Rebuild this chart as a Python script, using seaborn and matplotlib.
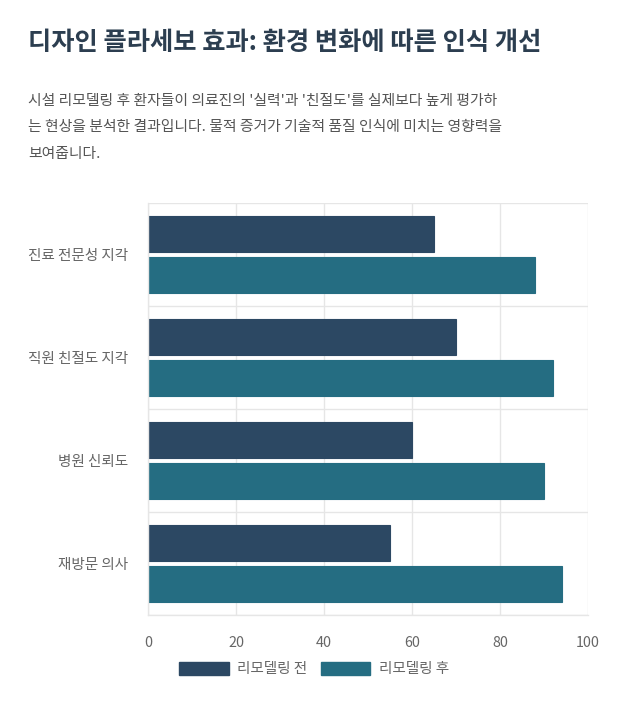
import matplotlib.pyplot as plt
import seaborn as sns
import pandas as pd

categories = ["진료 전문성 지각", "직원 친절도 지각", "병원 신뢰도", "재방문 의사"]
before = [65, 70, 60, 55]
after = [88, 92, 90, 94]
series_names = ["리모델링 전", "리모델링 후"]
colors = ["#2c4863", "#256d82"]

title = "디자인 플라세보 효과: 환경 변화에 따른 인식 개선"
subtitle = ("시설 리모델링 후 환자들이 의료진의 '실력'과 '친절도'를 실제보다 높게 평가하\n"
            "는 현상을 분석한 결과입니다. 물적 증거가 기술적 품질 인식에 미치는 영향력을\n"
            "보여줍니다.")

df = pd.DataFrame({
    "category": categories * 2,
    "value": before + after,
    "series": [series_names[0]] * len(before) + [series_names[1]] * len(after),
})

sns.set_style("white")
plt.rcParams["font.family"] = ["Noto Sans CJK KR", "DejaVu Sans"]

fig = plt.figure(figsize=(6.3, 7.22), dpi=100)
ax = fig.add_axes([148 / 630, 1 - 615 / 722, 440 / 630, 412 / 722])

sns.barplot(data=df, y="category", x="value", hue="series", order=categories,
            hue_order=series_names, palette=colors, orient="h",
            width=0.8, gap=0.12, saturation=1, ax=ax, legend=False)

for p in ax.patches:
    p.set_edgecolor(p.get_facecolor())
    p.set_linewidth(0.8)

grid_c = "#e6e6e6"
ax.set_xlim(0, 100)
ax.set_ylim(3.5, -0.5)
ax.set_xticks(range(0, 101, 20))
ax.set_yticks(range(len(categories)))
ax.set_yticks([i - 0.5 for i in range(len(categories) + 1)], minor=True)
ax.grid(axis="x", which="major", color=grid_c, linewidth=1)
ax.grid(axis="y", which="minor", color=grid_c, linewidth=1)
ax.set_axisbelow(True)
ax.tick_params(axis="x", which="major", length=9, color=grid_c, labelcolor="#666666",
               labelsize=10.3, pad=6)
ax.tick_params(axis="y", which="major", length=0, labelcolor="#666666", labelsize=10.5, pad=14)
ax.tick_params(axis="y", which="minor", length=10, color=grid_c)
for s in ["top", "right"]:
    ax.spines[s].set_visible(False)
for s in ["left", "bottom"]:
    ax.spines[s].set_color(grid_c)
    ax.spines[s].set_linewidth(1)
ax.set_xlabel("")
ax.set_ylabel("")

fig.text(28 / 630, 1 - 42 / 722, title, fontsize=18.2, fontweight="bold",
         color="#2c3e50", va="center", ha="left")
fig.text(28 / 630, 1 - 94 / 722, subtitle, fontsize=10.7, color="#555555",
         va="top", ha="left", linespacing=2.12)

handles = [plt.Rectangle((0, 0), 1, 1, facecolor=c, edgecolor=c) for c in colors]
fig.legend(handles, series_names, loc="center", bbox_to_anchor=(314 / 630, 1 - 669 / 722),
           ncol=2, frameon=False, fontsize=10.5, labelcolor="#666666",
           handlelength=3.4, handleheight=1.0, handletextpad=0.6, columnspacing=0.9)

fig.savefig("out.png", dpi=100, facecolor="white")
